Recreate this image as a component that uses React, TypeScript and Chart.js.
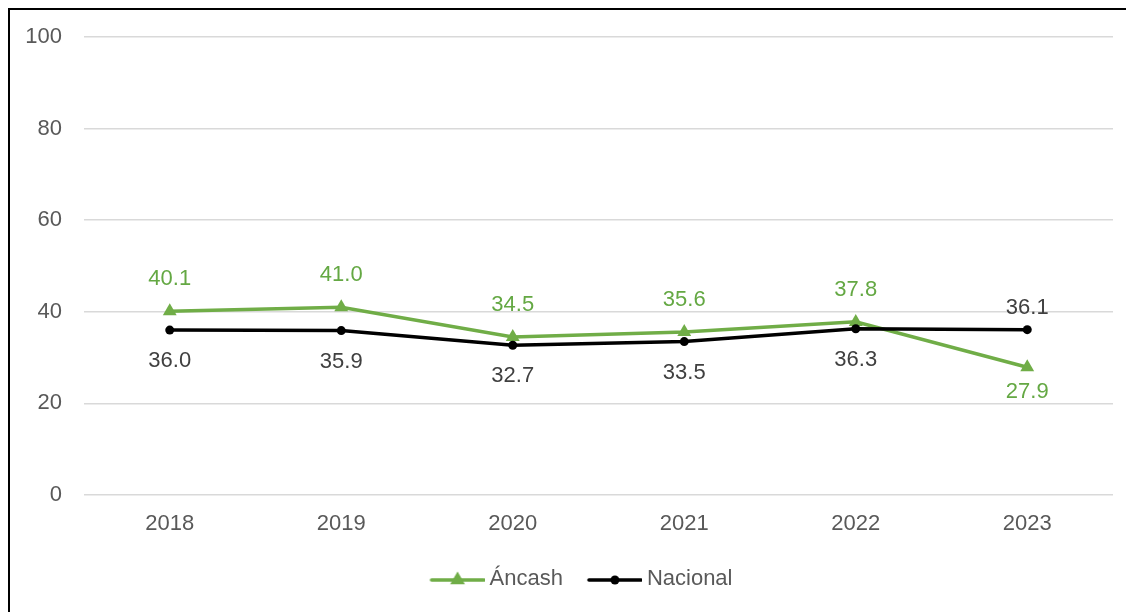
import React, { useEffect, useRef } from 'react';
import { Chart, registerables } from 'chart.js';

Chart.register(...registerables);

// ---- data ----
const years = ['2018', '2019', '2020', '2021', '2022', '2023'];
const ancashValues = [40.1, 41.0, 34.5, 35.6, 37.8, 27.9];
const nacionalValues = [36.0, 35.9, 32.7, 33.5, 36.3, 36.1];
const seriesNames = ['Áncash', 'Nacional'];
const yMin = 0;
const yMax = 100;
const yStep = 20;

const FONT = "'Liberation Sans', Arial, sans-serif";
const FONT_SIZE = 22;
const GREEN = '#70AD47';
const GREEN_TEXT = '#64A843';
const BLACK = '#000000';
const LABEL_DARK = '#404040';
const TICK_COLOR = '#595959';

function makeLegendIcon(color: string, kind: 'triangle' | 'circle'): HTMLCanvasElement {
  // 66px wide image, content in the right 54px (so it sits close to the text)
  const c = document.createElement('canvas');
  c.width = 66;
  c.height = 22;
  const g = c.getContext('2d')!;
  const cy = 12;
  const x0 = 13;
  const x1 = 65;
  const mid = (x0 + x1) / 2;
  g.strokeStyle = color;
  g.lineWidth = 3.5;
  g.lineCap = 'round';
  g.beginPath();
  g.moveTo(x0, cy);
  g.lineTo(x1, cy);
  g.stroke();
  g.fillStyle = color;
  g.beginPath();
  if (kind === 'triangle') {
    const r = 8.5;
    g.moveTo(mid, cy - r);
    g.lineTo(mid + r * 0.866, cy + r * 0.5);
    g.lineTo(mid - r * 0.866, cy + r * 0.5);
    g.closePath();
  } else {
    g.arc(mid, cy, 4.5, 0, Math.PI * 2);
  }
  g.fill();
  return c;
}

const valueLabelPlugin = {
  id: 'valueLabels',
  afterDatasetsDraw(chart: any) {
    const { ctx } = chart;
    const series = chart.data.datasets.map((d: any) => d.data as number[]);
    chart.data.datasets.forEach((ds: any, i: number) => {
      const meta = chart.getDatasetMeta(i);
      const st = ds.labelStyle;
      meta.data.forEach((pt: any, j: number) => {
        const v = series[i][j];
        const other = series[1 - i][j];
        const above = v >= other;
        const y = above ? pt.y - st.above : pt.y + st.below;
        ctx.save();
        ctx.font = `${FONT_SIZE}px ${FONT}`;
        ctx.fillStyle = st.color;
        ctx.textAlign = 'center';
        ctx.textBaseline = 'middle';
        ctx.fillText(v.toFixed(1), pt.x, y);
        ctx.restore();
      });
    });
  },
};

const legendShiftPlugin = {
  id: 'legendShift',
  afterLayout(chart: any) {
    const lg = chart.legend;
    if (lg) {
      lg.left += 17;
      lg.right += 17;
    }
  },
};

export default function App() {
  const ref = useRef<HTMLCanvasElement | null>(null);

  useEffect(() => {
    if (!ref.current) return;
    const icons = [makeLegendIcon(GREEN, 'triangle'), makeLegendIcon(BLACK, 'circle')];
    const chart = new Chart(ref.current, {
      type: 'line',
      data: {
        labels: years,
        datasets: [
          {
            label: seriesNames[0],
            data: ancashValues,
            borderColor: GREEN,
            backgroundColor: GREEN,
            borderWidth: 3.5,
            pointStyle: 'triangle',
            pointRadius: 8,
            pointBorderWidth: 0,
            pointBackgroundColor: GREEN,
            tension: 0,
            order: 1,
            labelStyle: { color: GREEN_TEXT, above: 32, below: 25 },
          } as any,
          {
            label: seriesNames[1],
            data: nacionalValues,
            borderColor: BLACK,
            backgroundColor: BLACK,
            borderWidth: 3.5,
            pointStyle: 'circle',
            pointRadius: 4.5,
            pointBorderWidth: 0,
            pointBackgroundColor: BLACK,
            tension: 0,
            order: 0,
            labelStyle: { color: LABEL_DARK, above: 22, below: 31 },
          } as any,
        ],
      },
      options: {
        animation: false,
        responsive: false,
        maintainAspectRatio: false,
        layout: { padding: { top: 27, right: 21, bottom: 12, left: 0 } },
        plugins: {
          tooltip: { enabled: false },
          title: { display: false },
          legend: {
            display: true,
            position: 'bottom',
            labels: {
              usePointStyle: true,
              pointStyleWidth: 54,
              padding: 19,
              font: { family: FONT, size: FONT_SIZE },
              color: TICK_COLOR,
              generateLabels: (ch: any) =>
                ch.data.datasets.map((ds: any, i: number) => ({
                  text: ds.label,
                  pointStyle: icons[i],
                  fillStyle: 'transparent',
                  strokeStyle: 'transparent',
                  lineWidth: 0,
                  fontColor: TICK_COLOR,
                  hidden: false,
                  datasetIndex: i,
                })),
            },
          },
        },
        scales: {
          x: {
            offset: true,
            grid: { display: false, drawTicks: false },
            border: { display: false },
            ticks: {
              padding: 16,
              color: TICK_COLOR,
              font: { family: FONT, size: FONT_SIZE },
            },
            afterFit: (s: any) => {
              s.height = 54;
            },
          },
          y: {
            min: yMin,
            max: yMax,
            grid: { color: '#D9D9D9', lineWidth: 1.5, drawTicks: false },
            border: { display: false },
            ticks: {
              stepSize: yStep,
              padding: 22,
              color: TICK_COLOR,
              font: { family: FONT, size: FONT_SIZE },
            },
            afterFit: (s: any) => {
              s.width = 74;
              s.paddingTop = 0;
              s.paddingBottom = 0;
            },
          },
        },
      },
      plugins: [valueLabelPlugin, legendShiftPlugin],
    });
    return () => chart.destroy();
  }, []);

  return (
    <div>
      <style>{`html,body{overflow:hidden;}`}</style>
      <div
        style={{
          width: 1124,
          height: 602,
          borderLeft: '2px solid #000',
          borderTop: '2px solid #000',
          background: '#fff',
        }}
      >
        <canvas ref={ref} width={1124} height={602} style={{ display: 'block' }} />
      </div>
    </div>
  );
}
